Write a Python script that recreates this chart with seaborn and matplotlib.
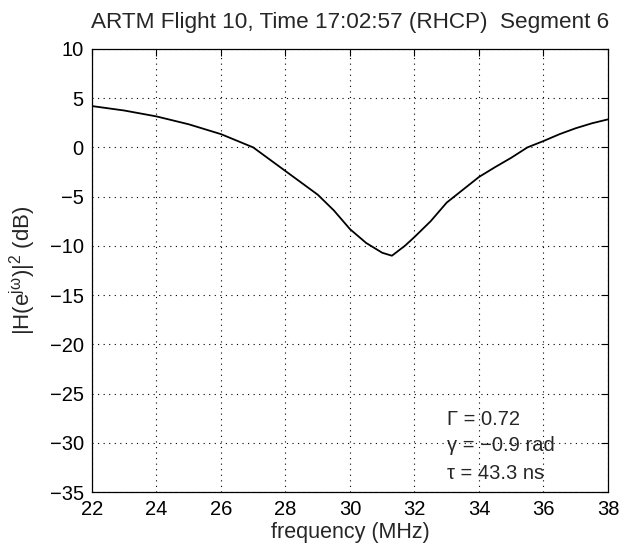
import matplotlib
matplotlib.use('Agg')
import matplotlib.pyplot as plt
import seaborn as sns
import numpy as np
import pandas as pd

# values
frequency_mhz = [22, 23, 24, 25, 26, 27, 28, 29, 29.5, 30, 30.5, 31, 31.3,
                 31.7, 32, 32.5, 33, 33.5, 34, 34.5, 35, 35.5, 36, 36.5, 37,
                 37.5, 38]
response_db = [4.2, 3.75, 3.15, 2.35, 1.35, 0.0, -2.4, -4.8, -6.4, -8.3, -9.7,
               -10.7, -11.0, -10.0, -9.1, -7.5, -5.6, -4.3, -3.0, -2.0, -1.05,
               0.0, 0.65, 1.35, 1.95, 2.45, 2.85]
x_ticks = [22, 24, 26, 28, 30, 32, 34, 36, 38]
y_ticks = [10, 5, 0, -5, -10, -15, -20, -25, -30, -35]
param_labels = ['\u0393 = 0.72', '\u03b3 = \u22120.9 rad', '\u03c4 = 43.3 ns']
param_y = [-27.6, -30.3, -33.1]

sns.set_style('white')
plt.rcParams['font.family'] = ['Liberation Sans', 'DejaVu Sans']
plt.rcParams['mathtext.fontset'] = 'custom'
plt.rcParams['mathtext.rm'] = 'Liberation Sans'
plt.rcParams['mathtext.it'] = 'Liberation Sans'
plt.rcParams['mathtext.default'] = 'regular'

df = pd.DataFrame({'frequency': frequency_mhz, 'db': response_db})

fig = plt.figure(figsize=(6.33, 5.54), dpi=100)
ax = fig.add_axes([0.1453, 0.1119, 0.8152, 0.7997])

sns.lineplot(data=df, x='frequency', y='db', ax=ax, color='black',
             linewidth=1.3)

ax.set_xlim(22, 38)
ax.set_ylim(-35, 10)
ax.set_xticks(x_ticks)
ax.set_yticks(y_ticks)
ax.grid(True, color='black', linestyle=(0, (1, 4)), linewidth=0.8)
ax.tick_params(direction='in', length=5, width=0.8, top=True, right=True,
               labelsize=14.5, colors='black', pad=6)
for spine in ax.spines.values():
    spine.set_color('black')
    spine.set_linewidth(0.9)

ax.set_xlabel('frequency (MHz)', fontsize=15.5, labelpad=2)
ax.set_ylabel(r'$|H(e^{j\omega})|^{2}$ (dB)', fontsize=16, labelpad=8)
ax.set_title('ARTM Flight 10, Time 17:02:57 (RHCP)  Segment 6',
             fontsize=16.2, pad=15)

for yv, label in zip(param_y, param_labels):
    ax.text(33.0, yv, label, fontsize=14.5, va='center', ha='left')

fig.savefig('out.png', dpi=100)
plt.close(fig)
